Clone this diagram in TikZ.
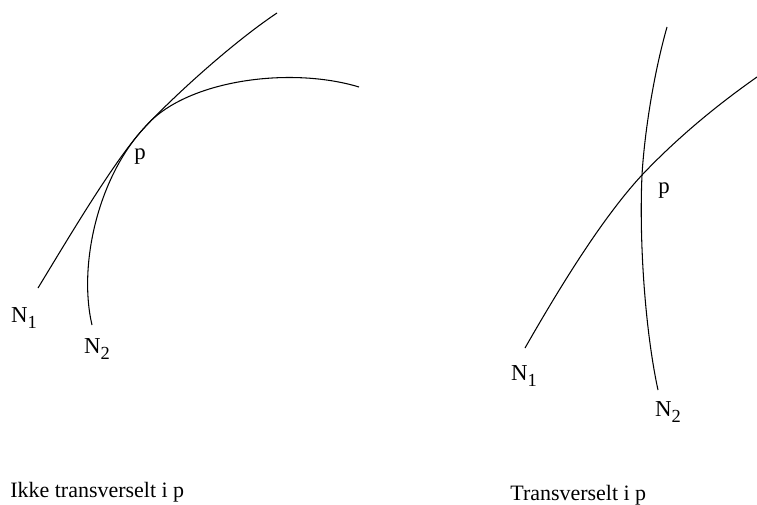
\documentclass[tikz,border=0pt]{standalone}
\usepackage{fontspec}
\setmainfont{Liberation Serif}
\newcommand{\lowidx}[1]{\raisebox{-0.5ex}{\fontsize{10.5}{12}\selectfont #1}}

\begin{document}
\begin{tikzpicture}[
    x=0.02cm, y=-0.02cm,
    curve/.style={draw=black, line width=0.6pt},
    curvelabel/.style={font=\fontsize{13}{15}\selectfont, inner sep=0pt},
    caption/.style={font=\fontsize{12.5}{15}\selectfont, inner sep=0pt, anchor=base west}
]
\useasboundingbox (0,0) rectangle (757,504);

% LEFT: CURVES TOUCHING IN p
\coordinate (pleft) at (145,127);
\coordinate (n1leftend) at (38,288);
\coordinate (n1lefttop) at (277,13);
\coordinate (n2leftend) at (92,325);
\coordinate (n2lefttop) at (359,87);

\draw[curve] (n1leftend) .. controls (72,232) and (116,158) .. (pleft)
    .. controls (178,92) and (235,41) .. (n1lefttop);
\draw[curve] (n2leftend) .. controls (78,265) and (98,177) .. (pleft)
    .. controls (185,80) and (290,66) .. (n2lefttop);

\node[curvelabel] (pleftlabel) at (140,157) {p};
\node[curvelabel] (n1leftlabel) at (24,318) {N\lowidx{1}};
\node[curvelabel] (n2leftlabel) at (97,349) {N\lowidx{2}};

% RIGHT: CURVES CROSSING IN p
\coordinate (pright) at (642,175);
\coordinate (n1rightend) at (525,348);
\coordinate (n1righttop) at (757,77);
\coordinate (n2rightend) at (658,390);
\coordinate (n2righttop) at (667,27);

\draw[curve] (n1rightend) .. controls (565,278) and (605,215) .. (pright)
    .. controls (680,135) and (720,103) .. (n1righttop);
\draw[curve] (n2righttop) .. controls (652,80) and (644,140) .. (pright)
    .. controls (639,240) and (645,330) .. (n2rightend);

\node[curvelabel] (prightlabel) at (664,191) {p};
\node[curvelabel] (n1rightlabel) at (524,376) {N\lowidx{1}};
\node[curvelabel] (n2rightlabel) at (668,412) {N\lowidx{2}};

% CAPTIONS
\node[caption] (leftcaption) at (10,497) {Ikke transverselt i p};
\node[caption] (rightcaption) at (510,500) {Transverselt i p};

\end{tikzpicture}
\end{document}
